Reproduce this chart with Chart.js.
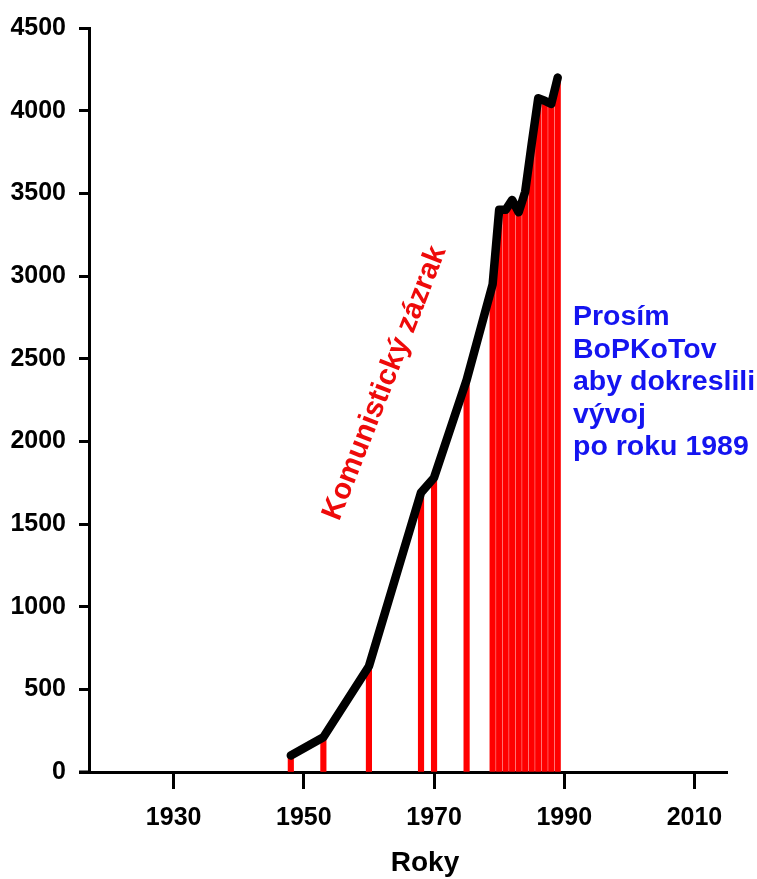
<!DOCTYPE html>
<html>
<head>
<meta charset="utf-8">
<script src="https://cdn.jsdelivr.net/npm/chart.js@4/dist/chart.umd.min.js"></script>
<style>
  html, body { margin: 0; padding: 0; background: #ffffff; }
  #wrap { width: 757px; height: 879px; position: relative; }
</style>
</head>
<body>
<div id="wrap"><canvas id="c" width="757" height="879"></canvas></div>
<script>
// ---- data ----
const years  = [1948, 1953, 1960, 1968, 1970, 1975, 1979, 1980, 1981, 1982, 1983, 1984, 1985, 1986, 1987, 1988, 1989];
const values = [100, 210, 640, 1690, 1780, 2370, 2950, 3400, 3400, 3460, 3385, 3510, 3800, 4075, 4060, 4040, 4200];
const xTickValues = [1930, 1950, 1970, 1990, 2010];
const xRange = [1917, 2015];
const yRange = [0, 4500];
const yStep = 500;
const xTitle = 'Roky';
const redNote = 'Komunistický zázrak';
const blueNote = ['Prosím', 'BoPKoTov', 'aby dokreslili', 'vývoj', 'po roku 1989'];

const FONT = '"Liberation Sans", Arial, Helvetica, sans-serif';
const points = years.map((y, i) => ({ x: y, y: values[i] }));

const annotate = {
  id: 'annotate',
  afterDraw(chart) {
    const { ctx, chartArea } = chart;
    ctx.save();
    // extend x axis line to the left like the reference
    ctx.strokeStyle = '#000';
    ctx.lineWidth = 3;
    ctx.beginPath();
    ctx.moveTo(chartArea.left - 10, chartArea.bottom);
    ctx.lineTo(chartArea.left, chartArea.bottom);
    ctx.stroke();

    // x axis title
    ctx.fillStyle = '#000';
    ctx.font = 'bold 28px ' + FONT;
    ctx.textAlign = 'center';
    ctx.textBaseline = 'alphabetic';
    ctx.fillText(xTitle, 425, 871);

    // rotated red note
    ctx.save();
    ctx.translate(385, 383);
    ctx.rotate(-68.5 * Math.PI / 180);
    ctx.fillStyle = '#ee0a0a';
    ctx.font = 'bold 29.5px ' + FONT;
    ctx.textAlign = 'center';
    ctx.textBaseline = 'middle';
    ctx.fillText(redNote, 0, 0);
    ctx.restore();

    // blue note
    ctx.fillStyle = '#1414f0';
    ctx.font = 'bold 28.5px ' + FONT;
    ctx.textAlign = 'left';
    ctx.textBaseline = 'alphabetic';
    blueNote.forEach((t, i) => ctx.fillText(t, 573, 325 + i * 32.5));
    ctx.restore();
  }
};

new Chart(document.getElementById('c'), {
  type: 'bar',
  data: {
    datasets: [
      {
        type: 'line',
        data: points,
        borderColor: '#000',
        borderWidth: 8.5,
        borderCapStyle: 'round',
        borderJoinStyle: 'round',
        pointRadius: 0,
        tension: 0,
        fill: false,
        order: 0
      },
      {
        type: 'bar',
        data: points,
        backgroundColor: '#ff0000',
        borderWidth: 0,
        barThickness: 5.5,
        order: 1
      }
    ]
  },
  options: {
    responsive: false,
    animation: false,
    devicePixelRatio: 1,
    layout: { padding: { top: 21, right: 30, left: 0, bottom: 0 } },
    plugins: { legend: { display: false }, tooltip: { enabled: false }, title: { display: false } },
    scales: {
      x: {
        type: 'linear',
        offset: false,
        min: xRange[0],
        max: xRange[1],
        afterBuildTicks(scale) { scale.ticks = xTickValues.map(v => ({ value: v })); },
        afterFit(scale) { scale.height = 107; },
        grid: { offset: false, drawOnChartArea: false, drawTicks: true, tickLength: 17, tickWidth: 3, tickColor: '#000' },
        border: { display: true, color: '#000', width: 3 },
        ticks: {
          autoSkip: false,
          maxRotation: 0,
          padding: 14,
          color: '#000',
          font: { family: FONT, size: 25, weight: 'bold' },
          callback: v => String(v)
        }
      },
      y: {
        min: yRange[0],
        max: yRange[1],
        afterFit(scale) { scale.width = 89; },
        grid: { drawOnChartArea: false, drawTicks: true, tickLength: 10, tickWidth: 3, tickColor: '#000' },
        border: { display: true, color: '#000', width: 3 },
        ticks: {
          stepSize: yStep,
          padding: 13,
          color: '#000',
          font: { family: FONT, size: 25, weight: 'bold' },
          callback: v => String(v)
        }
      }
    }
  },
  plugins: [annotate]
});
</script>
</body>
</html>
